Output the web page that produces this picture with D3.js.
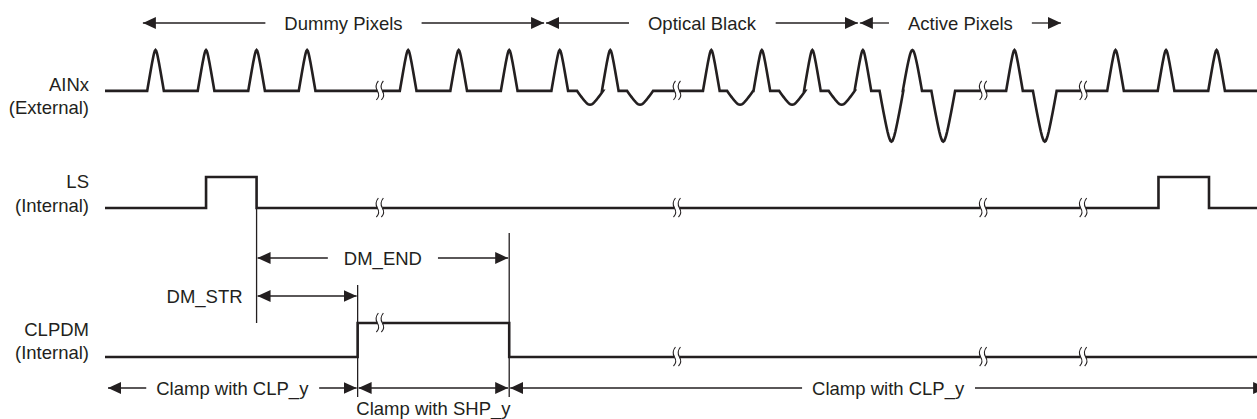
<!DOCTYPE html>
<html>
<head>
<meta charset="utf-8">
<script src="https://cdn.jsdelivr.net/npm/d3@7"></script>
<style>
  html, body { margin: 0; padding: 0; background: #fff; }
  svg text { font-family: "Liberation Sans", Arial, sans-serif; font-size: 18.5px; fill: #231f20; }
  .sig { fill: none; stroke: #231f20; stroke-width: 2.6; stroke-linejoin: miter; }
  .dim { fill: none; stroke: #231f20; stroke-width: 1.3; }
  .brk { fill: none; stroke: #231f20; stroke-width: 1.1; }
</style>
</head>
<body>
<div id="chart"></div>
<script>
'use strict';

// time axis in pixel-clock periods
const timeDomain = [-1, 21.8];

// AINx (External): regular pulses, wide pulse, small dips (optical black), big dips (active)
const ainPeaks = [0, 1, 2, 3, 5, 6, 7, 8, 9, 11, 12, 13, 14, 17, 19, 20, 21];
const ainWidePeaks = [14.98];
const ainSmallDips = [8.6, 9.59, 11.57, 12.6, 13.58];
const ainBigDips = [14.565, 15.59, 17.6];
const ainDipDepth = { small: -0.34, big: -1.24 };

// LS (Internal) pulses [rise, fall]
const lsPulses = [[1.0, 2.0], [19.85, 20.85]];

// CLPDM (Internal) high window [rise, fall]
const clpdmPulses = [[4.0, 7.0]];

// break marks shared by the three rows
const breaks = [4.44, 10.32, 16.38, 18.36];

// row labels
const rowLabels = [
    { key: 'ain', lines: ['AINx', '(External)'] },
    { key: 'ls', lines: ['LS', '(Internal)'] },
    { key: 'clp', lines: ['CLPDM', '(Internal)'] }
];

// top region arrows
const regionArrows = [
    { label: 'Dummy Pixels', from: -0.27, to: 7.71 },
    { label: 'Optical Black', from: 7.71, to: 13.92 },
    { label: 'Active Pixels', from: 13.92, to: 17.94 }
];

// bottom clamp arrows
const clampArrows = [
    { label: 'Clamp with CLP_y', from: -0.96, to: 4.0, below: false },
    { label: 'Clamp with SHP_y', from: 4.0, to: 7.0, below: true },
    { label: 'Clamp with CLP_y', from: 7.0, to: 22.0, below: false }
];

const W = 1257, H = 419;
const svg = d3.select('#chart').append('svg').attr('width', W).attr('height', H);

const x = d3.scaleLinear().domain(timeDomain).range([105, 1257]);
const yAin = d3.scaleLinear().domain([-1.25, 1]).range([142, 50]);
const yLs = d3.scaleLinear().domain([0, 1]).range([208, 177]);
const yClp = d3.scaleLinear().domain([0, 1]).range([357, 323]);

const defs = svg.append('defs');
defs.append('marker').attr('id', 'head')
    .attr('viewBox', '0 0 13 12').attr('refX', 13).attr('refY', 6)
    .attr('markerWidth', 13).attr('markerHeight', 12)
    .attr('markerUnits', 'userSpaceOnUse').attr('orient', 'auto-start-reverse')
  .append('path').attr('d', 'M0,0L13,6L0,12Z').attr('fill', '#231f20');

// rounded-tip bump: u in [-1,1]
function bump(u, r) {
    let g = v => Math.sqrt(v * v + r * r) - r;
    return 1 - g(u) / g(1);
}

function ainPath() {
    let feats = [];
    ainPeaks.forEach(t => feats.push({ t, amp: 1, w: 0.165, r: 0.2 }));
    ainWidePeaks.forEach(t => feats.push({ t, amp: 1, w: 0.19, r: 0.35 }));
    ainSmallDips.forEach(t => feats.push({ t, amp: ainDipDepth.small, w: 0.257, r: 0.35 }));
    ainBigDips.forEach(t => feats.push({ t, amp: ainDipDepth.big, w: 0.235, r: 0.3 }));
    feats.sort((a, b) => a.t - b.t);

    let pts = [[timeDomain[0], 0]];
    feats.forEach(f => {
        d3.range(0, 25).forEach(i => {
            let u = -1 + i / 12;
            pts.push([f.t + u * f.w, f.amp * bump(u, f.r)]);
        });
    });
    pts.push([timeDomain[1], 0]);
    return d3.line().x(d => x(d[0])).y(d => yAin(d[1]))(pts);
}

function stepPath(pulses, y) {
    let pts = [[timeDomain[0], 0]];
    pulses.forEach(p => {
        pts.push([p[0], 0], [p[0], 1], [p[1], 1], [p[1], 0]);
    });
    pts.push([timeDomain[1], 0]);
    return d3.line().x(d => x(d[0])).y(d => y(d[1]))(pts);
}

function levelAt(pulses, t) {
    return pulses.some(p => t > p[0] && t < p[1]) ? 1 : 0;
}

svg.append('path').attr('class', 'sig').attr('d', ainPath());
svg.append('path').attr('class', 'sig').attr('d', stepPath(lsPulses, yLs));
svg.append('path').attr('class', 'sig').attr('d', stepPath(clpdmPulses, yClp));

// break marks
function drawBreaks(yPix) {
    breaks.forEach(t => {
        let cx = x(t), cy = yPix(t);
        svg.append('rect').attr('x', cx - 2.5).attr('y', cy - 3).attr('width', 5).attr('height', 6).attr('fill', '#fff');
        [-2.5, 2.5].forEach(dx => {
            let bx = cx + dx;
            svg.append('path').attr('class', 'brk')
               .attr('d', `M${bx + 1},${cy - 10}Q${bx - 3},${cy - 5} ${bx},${cy}Q${bx + 3},${cy + 5} ${bx - 1},${cy + 9}`);
        });
    });
}
drawBreaks(() => yAin(0));
drawBreaks(t => yLs(levelAt(lsPulses, t)));
drawBreaks(t => yClp(levelAt(clpdmPulses, t)));

// row labels
const labelY = { ain: [84, 107], ls: [181, 205], clp: [329, 352] };
rowLabels.forEach(r => {
    r.lines.forEach((s, i) => {
        svg.append('text').attr('x', 89).attr('y', labelY[r.key][i])
           .attr('text-anchor', 'end').attr('dominant-baseline', 'central').text(s);
    });
});

// dimension arrow with a label sitting in a gap of the line
function gapArrow(y, t0, t1, label, gap) {
    let x0 = x(t0), x1 = x(t1);
    let txt = svg.append('text').attr('x', (x0 + x1) / 2).attr('y', y)
                 .attr('text-anchor', 'middle').attr('dominant-baseline', 'central').text(label);
    let bb = txt.node().getBBox();
    svg.append('line').attr('class', 'dim')
       .attr('x1', bb.x - gap).attr('x2', x0 + 1).attr('y1', y).attr('y2', y)
       .attr('marker-end', 'url(#head)');
    svg.append('line').attr('class', 'dim')
       .attr('x1', bb.x + bb.width + gap).attr('x2', x1 - 1).attr('y1', y).attr('y2', y)
       .attr('marker-end', 'url(#head)');
}

function plainArrow(y, t0, t1) {
    svg.append('line').attr('class', 'dim')
       .attr('x1', x(t0) + 1).attr('x2', x(t1) - 1).attr('y1', y).attr('y2', y)
       .attr('marker-start', 'url(#head)').attr('marker-end', 'url(#head)');
}

regionArrows.forEach(a => gapArrow(23, a.from, a.to, a.label, 19));

// DM_END / DM_STR
gapArrow(258, 2.0, 7.0, 'DM_END', 16);
plainArrow(296, 2.0, 4.0);
svg.append('text').attr('x', x(2.0) - 14).attr('y', 296)
   .attr('text-anchor', 'end').attr('dominant-baseline', 'central').text('DM_STR');

// vertical reference lines
[[2.0, yLs(0), 323], [4.0, 285, 397], [7.0, 233, 397]].forEach(v => {
    svg.append('line').attr('class', 'dim').attr('stroke-width', 1.1)
       .attr('x1', x(v[0])).attr('x2', x(v[0])).attr('y1', v[1]).attr('y2', v[2]);
});

// clamp arrows
clampArrows.forEach(a => {
    if (a.below) {
        plainArrow(388, a.from, a.to);
        svg.append('text').attr('x', (x(a.from) + x(a.to)) / 2).attr('y', 415)
           .attr('text-anchor', 'middle').text(a.label);
    } else {
        gapArrow(388, a.from, a.to, a.label, 10);
    }
});
</script>
</body>
</html>
